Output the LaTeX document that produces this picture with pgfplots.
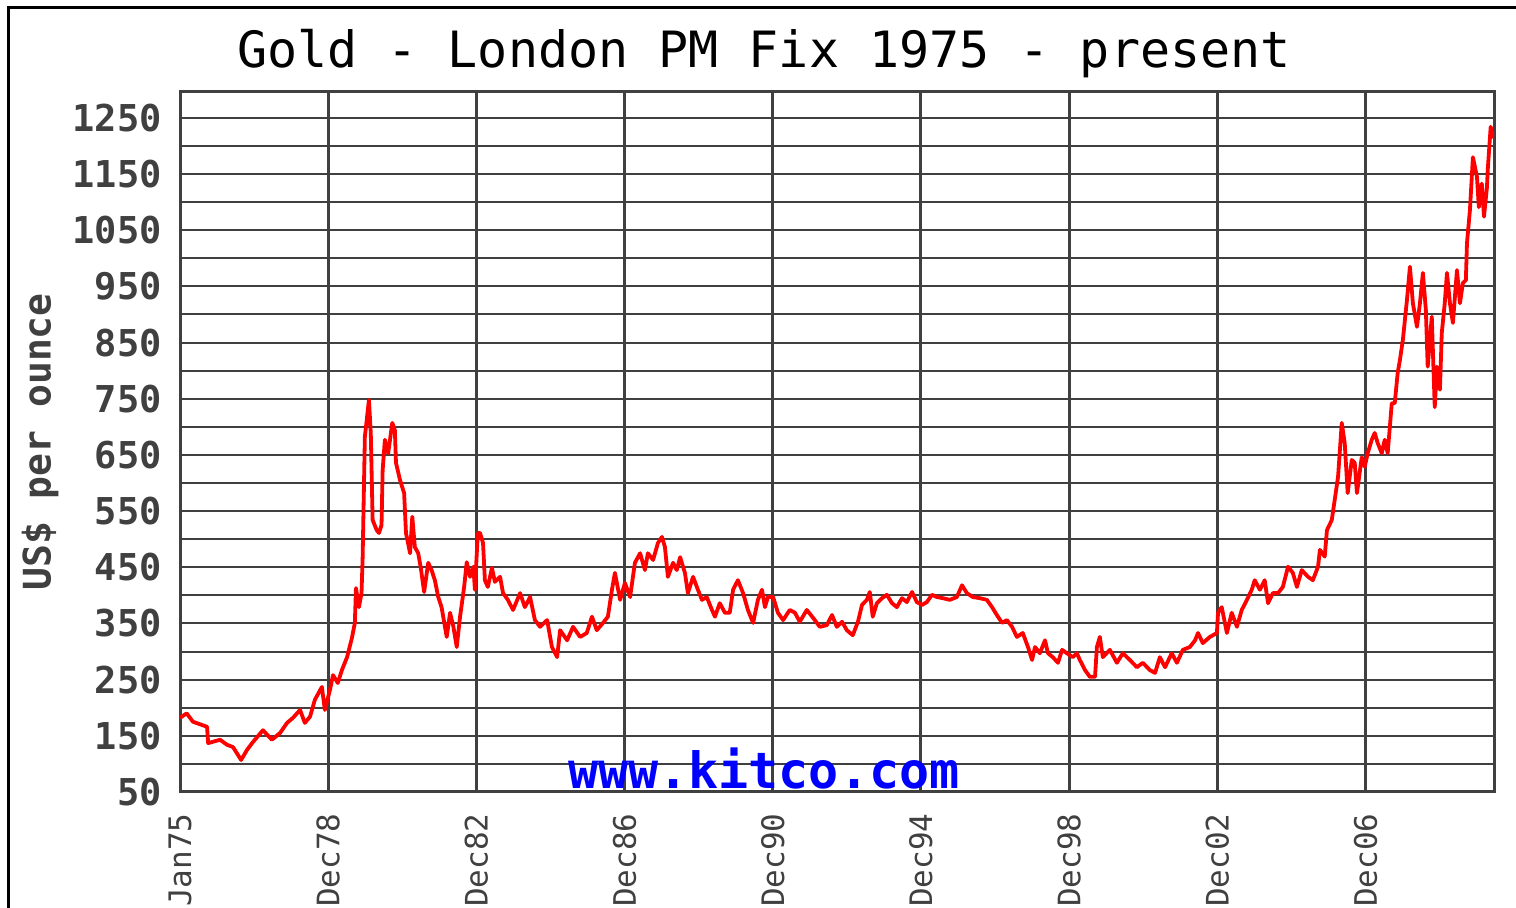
\documentclass[border=0pt]{standalone}
\usepackage{fontspec}
\setmainfont{DejaVu Sans Mono}
\usepackage{pgfplots}
\usepackage{pgfplotstable}
\pgfplotsset{compat=1.18}
\definecolor{gridgray}{HTML}{404040}
\definecolor{kitcoblue}{HTML}{0000FF}
\definecolor{goldred}{HTML}{FF0000}

\pgfplotstableread{
year price
1975.00 182
1975.18 190
1975.35 175
1975.73 166
1975.76 137
1976.08 143
1976.27 134
1976.43 130
1976.65 107
1976.81 125
1976.97 139
1977.24 160
1977.48 143
1977.70 155
1977.89 173
1978.05 182
1978.24 196
1978.37 173
1978.51 184
1978.64 214
1978.83 237
1978.91 196
1979.05 232
1979.13 258
1979.26 244
1979.37 267
1979.51 290
1979.64 324
1979.72 351
1979.75 413
1979.83 379
1979.90 404
1979.93 467
1979.99 682
1980.10 748
1980.15 689
1980.20 534
1980.31 516
1980.37 511
1980.44 525
1980.47 623
1980.53 677
1980.62 653
1980.73 707
1980.80 694
1980.83 636
1980.94 605
1981.05 582
1981.10 511
1981.21 475
1981.27 540
1981.34 486
1981.43 475
1981.50 449
1981.59 406
1981.70 458
1981.79 445
1981.88 427
1981.97 397
1982.06 379
1982.20 326
1982.29 369
1982.38 344
1982.47 308
1982.56 362
1982.67 415
1982.74 459
1982.83 433
1982.92 451
1982.96 410
1983.04 511
1983.10 511
1983.18 493
1983.23 427
1983.31 415
1983.42 449
1983.50 424
1983.64 433
1983.72 404
1983.85 392
1983.99 374
1984.18 404
1984.31 379
1984.45 397
1984.58 356
1984.72 344
1984.91 356
1985.04 308
1985.18 290
1985.26 338
1985.45 320
1985.61 344
1985.80 326
1985.98 333
1986.12 362
1986.25 338
1986.42 351
1986.55 362
1986.66 410
1986.74 440
1986.88 392
1987.01 422
1987.15 397
1987.28 458
1987.42 475
1987.55 445
1987.63 475
1987.77 463
1987.90 493
1988.01 504
1988.09 486
1988.17 433
1988.31 458
1988.41 445
1988.50 468
1988.63 440
1988.71 404
1988.85 433
1988.98 410
1989.09 392
1989.22 397
1989.36 374
1989.44 362
1989.57 386
1989.71 369
1989.84 369
1989.93 410
1990.06 427
1990.20 404
1990.33 374
1990.47 351
1990.60 392
1990.71 410
1990.79 379
1990.87 397
1991.01 397
1991.14 369
1991.28 356
1991.46 374
1991.60 369
1991.73 353
1991.92 374
1992.09 360
1992.27 344
1992.46 347
1992.60 365
1992.73 344
1992.87 353
1993.00 338
1993.16 329
1993.30 353
1993.41 383
1993.54 392
1993.62 406
1993.70 362
1993.81 386
1993.95 395
1994.08 401
1994.22 386
1994.35 379
1994.49 395
1994.62 388
1994.76 406
1994.89 388
1995.03 383
1995.16 388
1995.30 401
1995.43 397
1995.59 395
1995.78 392
1995.97 397
1996.11 418
1996.24 404
1996.40 397
1996.59 395
1996.78 392
1996.92 379
1997.05 365
1997.19 351
1997.32 356
1997.46 344
1997.59 326
1997.75 333
1997.89 308
1998.00 285
1998.08 308
1998.21 297
1998.35 320
1998.43 297
1998.56 290
1998.70 280
1998.81 303
1998.94 297
1999.10 290
1999.21 297
1999.29 285
1999.43 267
1999.56 255
1999.70 255
1999.75 308
1999.83 326
1999.91 290
2000.10 303
2000.29 280
2000.45 297
2000.64 285
2000.83 272
2000.99 280
2001.18 267
2001.32 262
2001.45 290
2001.59 272
2001.77 297
2001.91 280
2002.07 303
2002.26 308
2002.40 320
2002.48 333
2002.61 315
2002.80 326
2002.99 333
2003.02 369
2003.12 379
2003.26 333
2003.39 369
2003.53 344
2003.66 374
2003.80 392
2003.93 410
2004.01 427
2004.15 410
2004.28 427
2004.37 386
2004.50 404
2004.64 404
2004.77 415
2004.91 451
2005.04 440
2005.15 415
2005.28 445
2005.45 433
2005.58 427
2005.72 451
2005.77 481
2005.90 469
2005.96 516
2006.09 534
2006.17 570
2006.26 611
2006.36 707
2006.44 671
2006.52 582
2006.63 641
2006.71 636
2006.77 582
2006.90 646
2006.98 629
2007.06 653
2007.17 677
2007.25 689
2007.33 671
2007.44 653
2007.52 677
2007.60 653
2007.71 742
2007.79 742
2007.87 796
2007.93 819
2008.01 855
2008.12 926
2008.20 985
2008.28 920
2008.39 878
2008.47 920
2008.55 974
2008.63 908
2008.68 807
2008.79 896
2008.87 735
2008.93 807
2009.01 766
2009.06 867
2009.14 920
2009.20 974
2009.28 920
2009.36 885
2009.47 979
2009.55 920
2009.63 956
2009.71 961
2009.74 1027
2009.82 1086
2009.90 1180
2010.01 1145
2010.06 1091
2010.14 1133
2010.20 1074
2010.28 1127
2010.30 1157
2010.38 1234
2010.44 1216
2010.47 1225
}\goldtable

\begin{document}
\begin{tikzpicture}
\useasboundingbox (0pt,0pt) rectangle (758pt,454pt);
\draw[line width=1.5pt, black] (4pt,-2pt) -- (4pt,450pt) -- (762pt,450pt);
\begin{axis}[
  at={(90pt,58pt)}, anchor=south west,
  scale only axis, width=657pt, height=350pt,
  xmin=1975, xmax=2010.47, ymin=50, ymax=1296,
  xtick={1975,1979,1983,1987,1991,1995,1999,2003,2007},
  xticklabels={Jan75,Dec78,Dec82,Dec86,Dec90,Dec94,Dec98,Dec02,Dec06},
  ytick={50,150,250,350,450,550,650,750,850,950,1050,1150,1250},
  yticklabels={50,150,250,350,450,550,650,750,850,950,1050,1150,1250},
  extra y ticks={100,200,300,400,500,600,700,800,900,1000,1100,1200},
  extra y tick labels={},
  extra y tick style={grid=major, major grid style={line width=1.5pt, gridgray}},
  xmajorgrids, ymajorgrids,
  x grid style={line width=1.5pt, gridgray},
  y grid style={line width=1pt, gridgray},
  axis line style={line width=1.5pt, gridgray},
  major tick length=0pt,
  xticklabel style={rotate=90, anchor=east, inner sep=0pt, xshift=-10.5pt, text=gridgray, font=\fontsize{15.5}{15.5}\selectfont},
  yticklabel style={anchor=east, inner sep=0pt, xshift=-9pt, text=gridgray, font=\fontsize{18.5}{18.5}\selectfont\bfseries},
  ylabel={US\$ per ounce},
  ylabel style={at={(axis description cs:-0.1065,0.5)}, anchor=center, text=gridgray, font=\fontsize{19}{19}\selectfont\bfseries},
  title={Gold - London PM Fix 1975 - present},
  title style={at={(axis description cs:0.4444,1.0185)}, anchor=base, inner sep=0pt, text=black, font=\fontsize{25}{25}\selectfont},
  clip=true,
]
\addplot[goldred, line width=1.9pt, line join=round] table[x=year, y=price] {\goldtable};
\node[anchor=base, inner sep=0pt, text=kitcoblue, font=\fontsize{25}{25}\selectfont\bfseries] at (axis cs:1990.76,57) {www.kitco.com};
\end{axis}
\end{tikzpicture}
\end{document}
